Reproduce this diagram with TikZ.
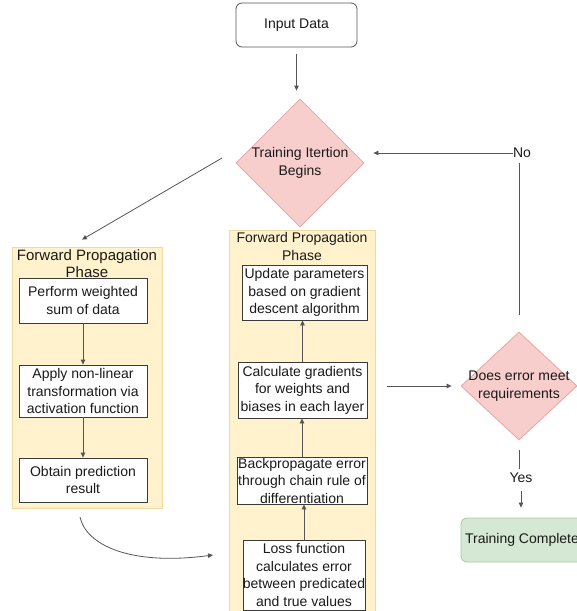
\documentclass[tikz,border=0pt]{standalone}
\usepackage{fontspec}
\setmainfont{Liberation Sans}
\usetikzlibrary{shapes.geometric,arrows.meta,calc}
\definecolor{txt}{HTML}{1A1A1A}
\definecolor{lin}{HTML}{555555}
\definecolor{boxline}{HTML}{3A3A3A}
\definecolor{panelfill}{HTML}{FFF2CC}
\definecolor{panelline}{HTML}{F0D9A0}
\definecolor{decfill}{HTML}{F8CECC}
\definecolor{decline}{HTML}{E6A5A3}
\definecolor{greenfill}{HTML}{D5E8D4}
\definecolor{greenline}{HTML}{A8C8A0}
\begin{document}
\begin{tikzpicture}[x=1pt,y=-1pt,
  every node/.style={text=txt, font=\fontsize{14}{17.5}\selectfont},
  proc/.style={draw=boxline, fill=white, line width=0.8pt, align=center, inner sep=0pt},
  panel/.style={draw=panelline, fill=panelfill, line width=0.8pt, inner sep=0pt},
  dec/.style={diamond, draw=decline, fill=decfill, line width=0.8pt, inner sep=0pt},
  term/.style={draw=lin, fill=white, rounded corners=6pt, line width=0.8pt, inner sep=0pt},
  done/.style={draw=greenline, fill=greenfill, rounded corners=6pt, line width=0.8pt, inner sep=0pt},
  conn/.style={draw=lin, line width=0.8pt},
  arr/.style={conn, -{Triangle[length=5pt,width=4.5pt]}},
]
\useasboundingbox (0,0) rectangle (577,611);

% top
\node[term, minimum width=121pt, minimum height=44pt] (input) at (296.5,25) {Input Data};
\node[dec, minimum width=128pt, minimum height=128pt,
  label={[align=center]center:Training Itertion\\Begins}] (train) at (300,163) {};

% left panel
\node[panel, minimum width=150pt, minimum height=261pt] (left) at (87,377.5) {};
\node[align=center, inner sep=0pt, font=\fontsize{15}{17}\selectfont] (ltitle) at (87,263.5) {Forward Propagation\\Phase};
\node[proc, minimum width=128pt, minimum height=45pt] (p1) at (83,300.5) {Perform weighted\\sum of data};
\node[proc, minimum width=128pt, minimum height=52pt] (p2) at (83,391) {Apply non-linear\\transformation via\\activation function};
\node[proc, minimum width=128pt, minimum height=44pt] (p3) at (83,480) {Obtain prediction\\result};

% middle panel
\node[panel, minimum width=146pt, minimum height=390pt] (mid) at (302,425) {};
\node[align=center, inner sep=0pt] (mtitle) at (302,246.5) {Forward Propagation\\Phase};
\node[proc, minimum width=125pt, minimum height=55pt] (mu) at (304.5,292.5) {Update parameters\\based on gradient\\descent algorithm};
\node[proc, minimum width=129pt, minimum height=56pt] (mc) at (302.5,390) {Calculate gradients\\for weights and\\biases in each layer};
\node[proc, minimum width=130pt, minimum height=47pt] (mb) at (302,480.5) {Backpropagate error\\through chain rule of\\differentiation};
\node[proc, minimum width=122pt, minimum height=70pt] (ml) at (304,575) {Loss function\\calculates error\\between predicated\\and true values};

% right side
\node[dec, minimum width=116pt, minimum height=108pt,
  label={[align=center]center:Does error meet\\requirements}] (does) at (519,386) {};
\node[done, minimum width=122pt, minimum height=44pt] (fin) at (522,540) {Training Complete};
\node[inner sep=0pt] (no) at (522,153) {No};
\node[inner sep=0pt] (yes) at (521,478) {Yes};

% connectors
\draw[arr, shorten <=7pt, shorten >=8pt] (input.south) -- (input.south |- train.north);
\draw[arr, shorten >=9pt] (no.west) -- (no.west -| train.east);
\draw[conn, shorten <=5pt, shorten >=17pt] (does.north |- no.south) -- (does.north);
\coordinate (dgs) at (222,158);
\draw[arr] (dgs) -- ($(left.north)+(-5,-7)$);

\draw[arr] (p1) -- (p1 |- p2.north);
\draw[arr] (p2) -- (p2 |- p3.north);

\coordinate (cs) at (80,517);
\coordinate (ce) at (213,555);
\draw[arr] (cs) .. controls (86,545) and (130,566) .. (ce);

\draw[arr] (ml.north) -- (ml.north |- mb.south);
\draw[arr] (mb.north) -- (mb.north |- mc.south);
\draw[arr] (mc.north) -- (mc.north |- mu.south);

\draw[arr, shorten <=12pt, shorten >=9pt] (mid.east |- does.west) -- (does.west);
\draw[conn, shorten <=10pt, shorten >=4pt] (does.south) -- (does.south |- yes.north);
\draw[arr, shorten <=8pt, shorten >=10pt] (yes.south) -- (yes.south |- fin.north);
\end{tikzpicture}
\end{document}
